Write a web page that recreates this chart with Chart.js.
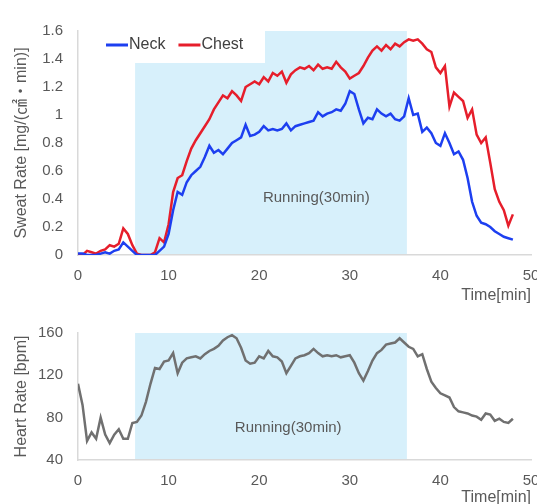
<!DOCTYPE html>
<html><head><meta charset="utf-8">
<script src="https://cdn.jsdelivr.net/npm/chart.js@4.4.1/dist/chart.umd.min.js"></script>
<style>
html,body{margin:0;padding:0;overflow:hidden;background:#fff;width:537px;height:504px;position:relative;}
#c1{position:absolute;left:0;top:0;}
#c2{position:absolute;left:0;top:305px;}
</style></head><body>
<canvas id="c1" width="560" height="305"></canvas>
<canvas id="c2" width="560" height="202"></canvas>
<script>
const time = [0,0.5,1,1.5,2,2.5,3,3.5,4,4.5,5,5.5,6,6.5,7,7.5,8,8.5,9,9.5,10,10.5,11,11.5,12,12.5,13,13.5,14,14.5,15,15.5,16,16.5,17,17.5,18,18.5,19,19.5,20,20.5,21,21.5,22,22.5,23,23.5,24,24.5,25,25.5,26,26.5,27,27.5,28,28.5,29,29.5,30,30.5,31,31.5,32,32.5,33,33.5,34,34.5,35,35.5,36,36.5,37,37.5,38,38.5,39,39.5,40,40.5,41,41.5,42,42.5,43,43.5,44,44.5,45,45.5,46,46.5,47,47.5,48];
const neck = [0.01,0.01,0,0,0,0.01,0.02,0.01,0.03,0.04,
 0.09,0.06,0.03,0,0,0,0,0,0.03,0.06,
 0.15,0.32,0.45,0.43,0.52,0.57,0.60,0.63,0.70,0.78,
 0.73,0.75,0.72,0.76,0.80,0.82,0.84,0.93,0.85,0.86,
 0.88,0.92,0.89,0.90,0.89,0.90,0.94,0.89,0.92,0.93,
 0.94,0.95,0.96,1.02,0.99,1.01,1.02,1.04,1.03,1.08,
 1.17,1.15,1.04,0.94,0.98,0.97,1.04,1.01,0.99,1.01,
 0.97,0.96,0.99,1.12,1.00,1.01,0.88,0.91,0.87,0.80,
 0.78,0.87,0.80,0.72,0.74,0.68,0.55,0.38,0.28,0.23,
 0.22,0.20,0.17,0.15,0.13,0.12,0.11];
const chest = [0,0,0.03,0.02,0.01,0.03,0.04,0.07,0.06,0.08,
 0.19,0.15,0.07,0.01,0,0,0,0.02,0.12,0.09,
 0.22,0.45,0.55,0.57,0.67,0.76,0.82,0.87,0.92,0.97,
 1.04,1.09,1.14,1.12,1.17,1.14,1.10,1.20,1.22,1.24,
 1.22,1.27,1.24,1.30,1.28,1.31,1.23,1.29,1.32,1.34,
 1.33,1.35,1.32,1.36,1.33,1.34,1.33,1.38,1.34,1.31,
 1.26,1.28,1.30,1.35,1.41,1.46,1.49,1.46,1.50,1.47,
 1.51,1.49,1.52,1.54,1.53,1.54,1.51,1.47,1.45,1.34,
 1.30,1.35,1.06,1.16,1.13,1.10,0.98,1.04,0.86,0.80,
 0.84,0.66,0.47,0.38,0.32,0.21,0.29];
const heartRate = [112,92,58,66,60,80,64,56,64,69,
 60,60,75,76,82,95,112,127,126,133,
 134,141,122,132,136,137,138,136,140,143,
 145,148,153,156,158,155,146,134,131,132,
 138,136,143,138,137,133,122,129,136,138,
 139,141,145,141,138,139,138,139,137,138,
 139,132,122,115,124,134,141,144,149,150,
 151,155,151,147,145,138,140,126,114,108,
 103,101,99,90,86,85,84,82,81,78,
 84,83,77,79,76,75,79];
const xTicks = [0,10,20,30,40,50];
const sweatTicks = [0,0.2,0.4,0.6,0.8,1,1.2,1.4,1.6];
const hrTicks = [40,80,120,160];
const runStart = 6.3, runEnd = 36.3;
const runLabel = 'Running(30min)';

const FONT = "'Liberation Sans', Arial, 'Noto Sans CJK JP', sans-serif";
const GRAY = '#595959';
const pts = (ys) => time.map((t, i) => ({x: t, y: ys[i]}));

const runBand = {
  id: 'runBand',
  beforeDraw(chart, args, o) {
    const {ctx, chartArea: a, scales: {x}} = chart;
    ctx.save();
    ctx.fillStyle = '#d7f0fb';
    const l = x.getPixelForValue(runStart), r = x.getPixelForValue(runEnd);
    ctx.fillRect(l, a.top, r - l, a.bottom - a.top);
    if (o.legend) {
      ctx.fillStyle = '#ffffff';
      ctx.fillRect(a.left, a.top, o.legend.box[0], o.legend.box[1]);
    }
    ctx.restore();
  },
  beforeDatasetsDraw(chart, args, o) {
    const {ctx, chartArea: a, scales: {x, y}} = chart;
    ctx.save();
    ctx.fillStyle = GRAY;
    ctx.font = '15px ' + FONT;
    ctx.textAlign = 'center';
    ctx.textBaseline = 'middle';
    ctx.fillText(runLabel, x.getPixelForValue(o.at[0]), y.getPixelForValue(o.at[1]));
    if (o.legend) {
      ctx.font = '16px ' + FONT;
      ctx.textAlign = 'left';
      let cx = a.left + o.legend.offset[0];
      const cy = a.top + o.legend.offset[1];
      chart.data.datasets.forEach(ds => {
        ctx.strokeStyle = ds.borderColor;
        ctx.lineWidth = 3;
        ctx.beginPath(); ctx.moveTo(cx, cy); ctx.lineTo(cx + 22, cy); ctx.stroke();
        ctx.fillStyle = '#404040';
        ctx.fillText(ds.label, cx + 23, cy);
        cx += 23 + ctx.measureText(ds.label).width + 13;
      });
    }
    ctx.restore();
  }
};

function xScale(h) {
  return {
    type: 'linear', min: xTicks[0], max: xTicks[xTicks.length - 1],
    afterBuildTicks: s => { s.ticks = xTicks.map(v => ({value: v})); },
    afterFit: s => { s.height = h; },
    grid: {display: false, drawTicks: false},
    border: {display: true, color: '#d9d9d9', width: 1.5},
    ticks: {color: GRAY, font: {family: FONT, size: 15}, padding: 12, maxRotation: 0},
    title: {display: true, text: 'Time[min]', align: 'end', color: GRAY,
            font: {family: FONT, size: 16}, padding: {top: 0, bottom: 0}}
  };
}
function yScale(tk, title) {
  return {
    type: 'linear', min: tk[0], max: tk[tk.length - 1],
    afterBuildTicks: s => { s.ticks = tk.map(v => ({value: v})); },
    afterFit: s => { s.width = 78; },
    grid: {display: false, drawTicks: false},
    border: {display: true, color: '#d9d9d9', width: 1.5},
    ticks: {color: GRAY, font: {family: FONT, size: 15}, padding: 15,
            format: {minimumFractionDigits: 0, maximumFractionDigits: 1}},
    title: {display: true, text: title, color: GRAY,
            font: {family: FONT, size: 16}, padding: {top: 12, bottom: 0}}
  };
}

new Chart(document.getElementById('c1'), {
  type: 'line',
  data: {datasets: [
    {label: 'Neck', data: pts(neck), borderColor: '#1d3ff0', backgroundColor: '#1d3ff0', borderWidth: 2.5, pointRadius: 0, tension: 0},
    {label: 'Chest', data: pts(chest), borderColor: '#e61e2b', backgroundColor: '#e61e2b', borderWidth: 2.5, pointRadius: 0, tension: 0}
  ]},
  options: {
    responsive: false, animation: false,
    layout: {padding: {left: 0, right: 29, top: 31, bottom: 0}},
    scales: {x: xScale(50), y: yScale(sweatTicks, 'Sweat Rate [mg/(㎠・min)]')},
    plugins: {
      legend: {display: false},
      tooltip: {enabled: false},
      runBand: {at: [26.3, 0.41], legend: {box: [187, 32], offset: [28, 14]}}
    }
  },
  plugins: [runBand]
});

new Chart(document.getElementById('c2'), {
  type: 'line',
  data: {datasets: [
    {label: 'Heart Rate', data: pts(heartRate), borderColor: '#707070', backgroundColor: '#707070', borderWidth: 2.5, pointRadius: 0, tension: 0}
  ]},
  options: {
    responsive: false, animation: false,
    layout: {padding: {left: 0, right: 29, top: 28, bottom: 0}},
    scales: {x: xScale(47), y: yScale(hrTicks, 'Heart Rate [bpm]')},
    plugins: {
      legend: {display: false},
      tooltip: {enabled: false},
      runBand: {at: [23.2, 70]}
    }
  },
  plugins: [runBand]
});
</script>
</body></html>
